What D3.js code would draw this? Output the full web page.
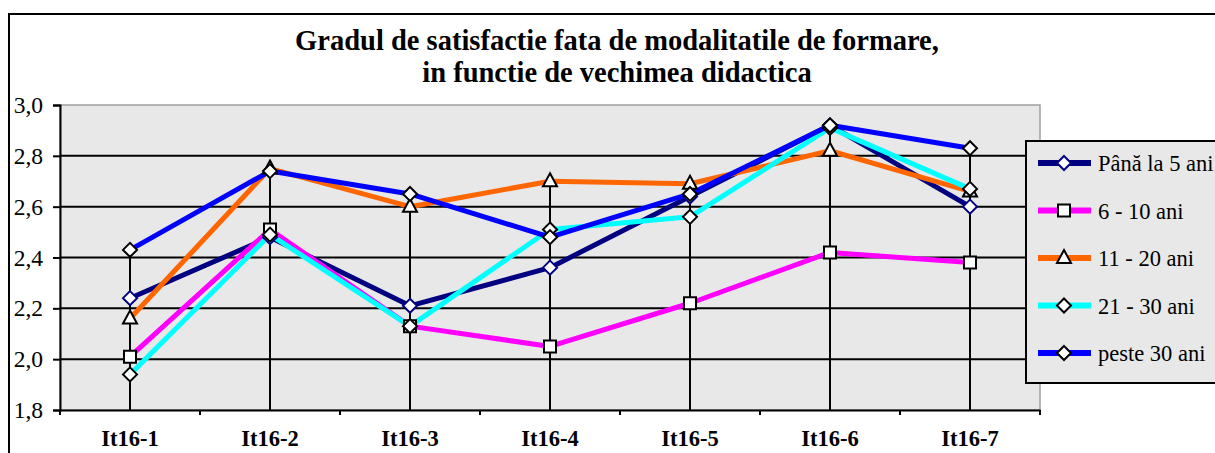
<!DOCTYPE html>
<html>
<head>
<meta charset="utf-8">
<script src="https://cdn.jsdelivr.net/npm/d3@7"></script>
<style>
  body { margin: 0; background: #fff; }
</style>
</head>
<body>
<svg></svg>
<script>
const CATEGORIES = ["It16-1", "It16-2", "It16-3", "It16-4", "It16-5", "It16-6", "It16-7"];
const SERIES_NAMES = ["Până la 5 ani", "6 - 10 ani", "11 - 20 ani", "21 - 30 ani", "peste 30 ani"];
const VALUES_0_5 = [2.24, 2.48, 2.21, 2.36, 2.64, 2.92, 2.60];
const VALUES_6_10 = [2.01, 2.51, 2.13, 2.05, 2.22, 2.42, 2.38];
const VALUES_11_20 = [2.16, 2.75, 2.60, 2.70, 2.69, 2.82, 2.66];
const VALUES_21_30 = [1.94, 2.49, 2.13, 2.51, 2.56, 2.91, 2.67];
const VALUES_30_PLUS = [2.43, 2.74, 2.65, 2.48, 2.65, 2.92, 2.83];
const Y_TICKS = [1.8, 2.0, 2.2, 2.4, 2.6, 2.8, 3.0];
const TITLE_LINES = ["Gradul de satisfactie fata de modalitatile de formare,", "in functie de vechimea didactica"];

const series = [
  { name: SERIES_NAMES[0], values: VALUES_0_5, color: "#000080", marker: "diamond", stroke: "#000080" },
  { name: SERIES_NAMES[1], values: VALUES_6_10, color: "#ff00ff", marker: "square", stroke: "#000" },
  { name: SERIES_NAMES[2], values: VALUES_11_20, color: "#ff6600", marker: "triangle", stroke: "#000" },
  { name: SERIES_NAMES[3], values: VALUES_21_30, color: "#00ffff", marker: "diamond", stroke: "#000" },
  { name: SERIES_NAMES[4], values: VALUES_30_PLUS, color: "#0000ff", marker: "diamond", stroke: "#000" },
];

const WIDTH = 1215, HEIGHT = 453;
const PLOT = { left: 60, right: 1040, top: 105, bottom: 410 };
const FONT = "'Liberation Serif', 'Times New Roman', serif";

const svg = d3.select("svg").attr("width", WIDTH).attr("height", HEIGHT);

// chart border
svg.append("rect")
  .attr("x", 9).attr("y", 14).attr("width", 1230).attr("height", 460)
  .attr("fill", "#fff").attr("stroke", "#000").attr("stroke-width", 2);

// title
svg.append("g").selectAll("text")
  .data(TITLE_LINES)
  .join("text")
  .attr("x", 617).attr("y", (d, i) => 50 + i * 32)
  .attr("text-anchor", "middle")
  .attr("font-family", FONT)
  .attr("font-size", 28.5).attr("font-weight", "bold")
  .text(d => d);

// scales
const x = d3.scaleBand().domain(CATEGORIES).range([PLOT.left, PLOT.right]).padding(0);
const cx = c => x(c) + x.bandwidth() / 2;
const y = d3.scaleLinear().domain([1.8, 3.0]).range([PLOT.bottom, PLOT.top]);

// plot area
svg.append("rect")
  .attr("x", PLOT.left).attr("y", PLOT.top)
  .attr("width", PLOT.right - PLOT.left).attr("height", PLOT.bottom - PLOT.top)
  .attr("fill", "#e8e8e8").attr("stroke", "#a0a0a0").attr("stroke-width", 1.5);

// gridlines
svg.append("g").selectAll("line")
  .data(Y_TICKS.filter(t => t > 1.8 && t < 3.0))
  .join("line")
  .attr("x1", PLOT.left).attr("x2", PLOT.right)
  .attr("y1", d => y(d)).attr("y2", d => y(d))
  .attr("stroke", "#000").attr("stroke-width", 2);

// y axis
const yAxis = svg.append("g")
  .attr("transform", `translate(${PLOT.left},0)`)
  .call(d3.axisLeft(y).tickValues(Y_TICKS).tickSize(7).tickPadding(10)
    .tickFormat(d => d.toFixed(1).replace(".", ",")))
  .attr("font-family", FONT);
yAxis.selectAll("line").attr("stroke", "#000").attr("stroke-width", 2);
yAxis.select(".domain").attr("stroke", "#000").attr("stroke-width", 2);
yAxis.selectAll("text").attr("font-size", 23.5).attr("fill", "#000");

// x axis
const xAxis = svg.append("g")
  .attr("transform", `translate(0,${PLOT.bottom})`)
  .call(d3.axisBottom(x).tickSize(0).tickPadding(20).tickSizeOuter(0))
  .attr("font-family", FONT);
xAxis.select(".domain").attr("stroke", "#000").attr("stroke-width", 2);
xAxis.selectAll("text").attr("font-size", 22.5).attr("font-weight", "bold").attr("fill", "#000");
xAxis.selectAll(".edge")
  .data(CATEGORIES.map(c => x(c)).concat([PLOT.right]))
  .join("line").attr("class", "edge")
  .attr("x1", d => d).attr("x2", d => d)
  .attr("y1", 0).attr("y2", 5)
  .attr("stroke", "#000").attr("stroke-width", 2);

// drop lines
svg.append("g").selectAll("line")
  .data(CATEGORIES)
  .join("line")
  .attr("x1", d => cx(d)).attr("x2", d => cx(d))
  .attr("y1", (d, i) => y(d3.max(series, s => s.values[i])))
  .attr("y2", PLOT.bottom)
  .attr("stroke", "#000").attr("stroke-width", 2);

// series lines
const line = d3.line().x((d, i) => cx(CATEGORIES[i])).y(d => y(d));
svg.append("g").selectAll("path")
  .data(series)
  .join("path")
  .attr("d", s => line(s.values))
  .attr("fill", "none")
  .attr("stroke", s => s.color)
  .attr("stroke-width", 5)
  .attr("stroke-linejoin", "round");

function markerPath(type) {
  if (type === "square") return "M-6,-6H6V6H-6Z";
  if (type === "triangle") return "M0,-8L7,5H-7Z";
  return "M0,-7L7,0L0,7L-7,0Z";
}

// markers
series.forEach(s => {
  svg.append("g").selectAll("path")
    .data(s.values)
    .join("path")
    .attr("transform", (d, i) => `translate(${cx(CATEGORIES[i])},${y(d)})`)
    .attr("d", markerPath(s.marker))
    .attr("fill", "#fff")
    .attr("stroke", s.stroke)
    .attr("stroke-width", 2);
});

// legend
const legend = svg.append("g").attr("transform", "translate(1026,141)");
legend.append("rect")
  .attr("width", 220).attr("height", 242)
  .attr("fill", "#e8e8e8").attr("stroke", "#000").attr("stroke-width", 2);
const item = legend.selectAll(".item")
  .data(series)
  .join("g").attr("class", "item")
  .attr("transform", (d, i) => `translate(0,${22 + i * 47.5})`);
item.append("line")
  .attr("x1", 12).attr("x2", 65)
  .attr("stroke", d => d.color).attr("stroke-width", 6);
item.append("path")
  .attr("transform", "translate(38,0)")
  .attr("d", d => markerPath(d.marker))
  .attr("fill", "#fff").attr("stroke", d => d.stroke).attr("stroke-width", 2);
item.append("text")
  .attr("x", 72).attr("y", 8)
  .attr("font-family", FONT)
  .attr("font-size", 22.5)
  .text(d => d.name);
</script>
</body>
</html>
